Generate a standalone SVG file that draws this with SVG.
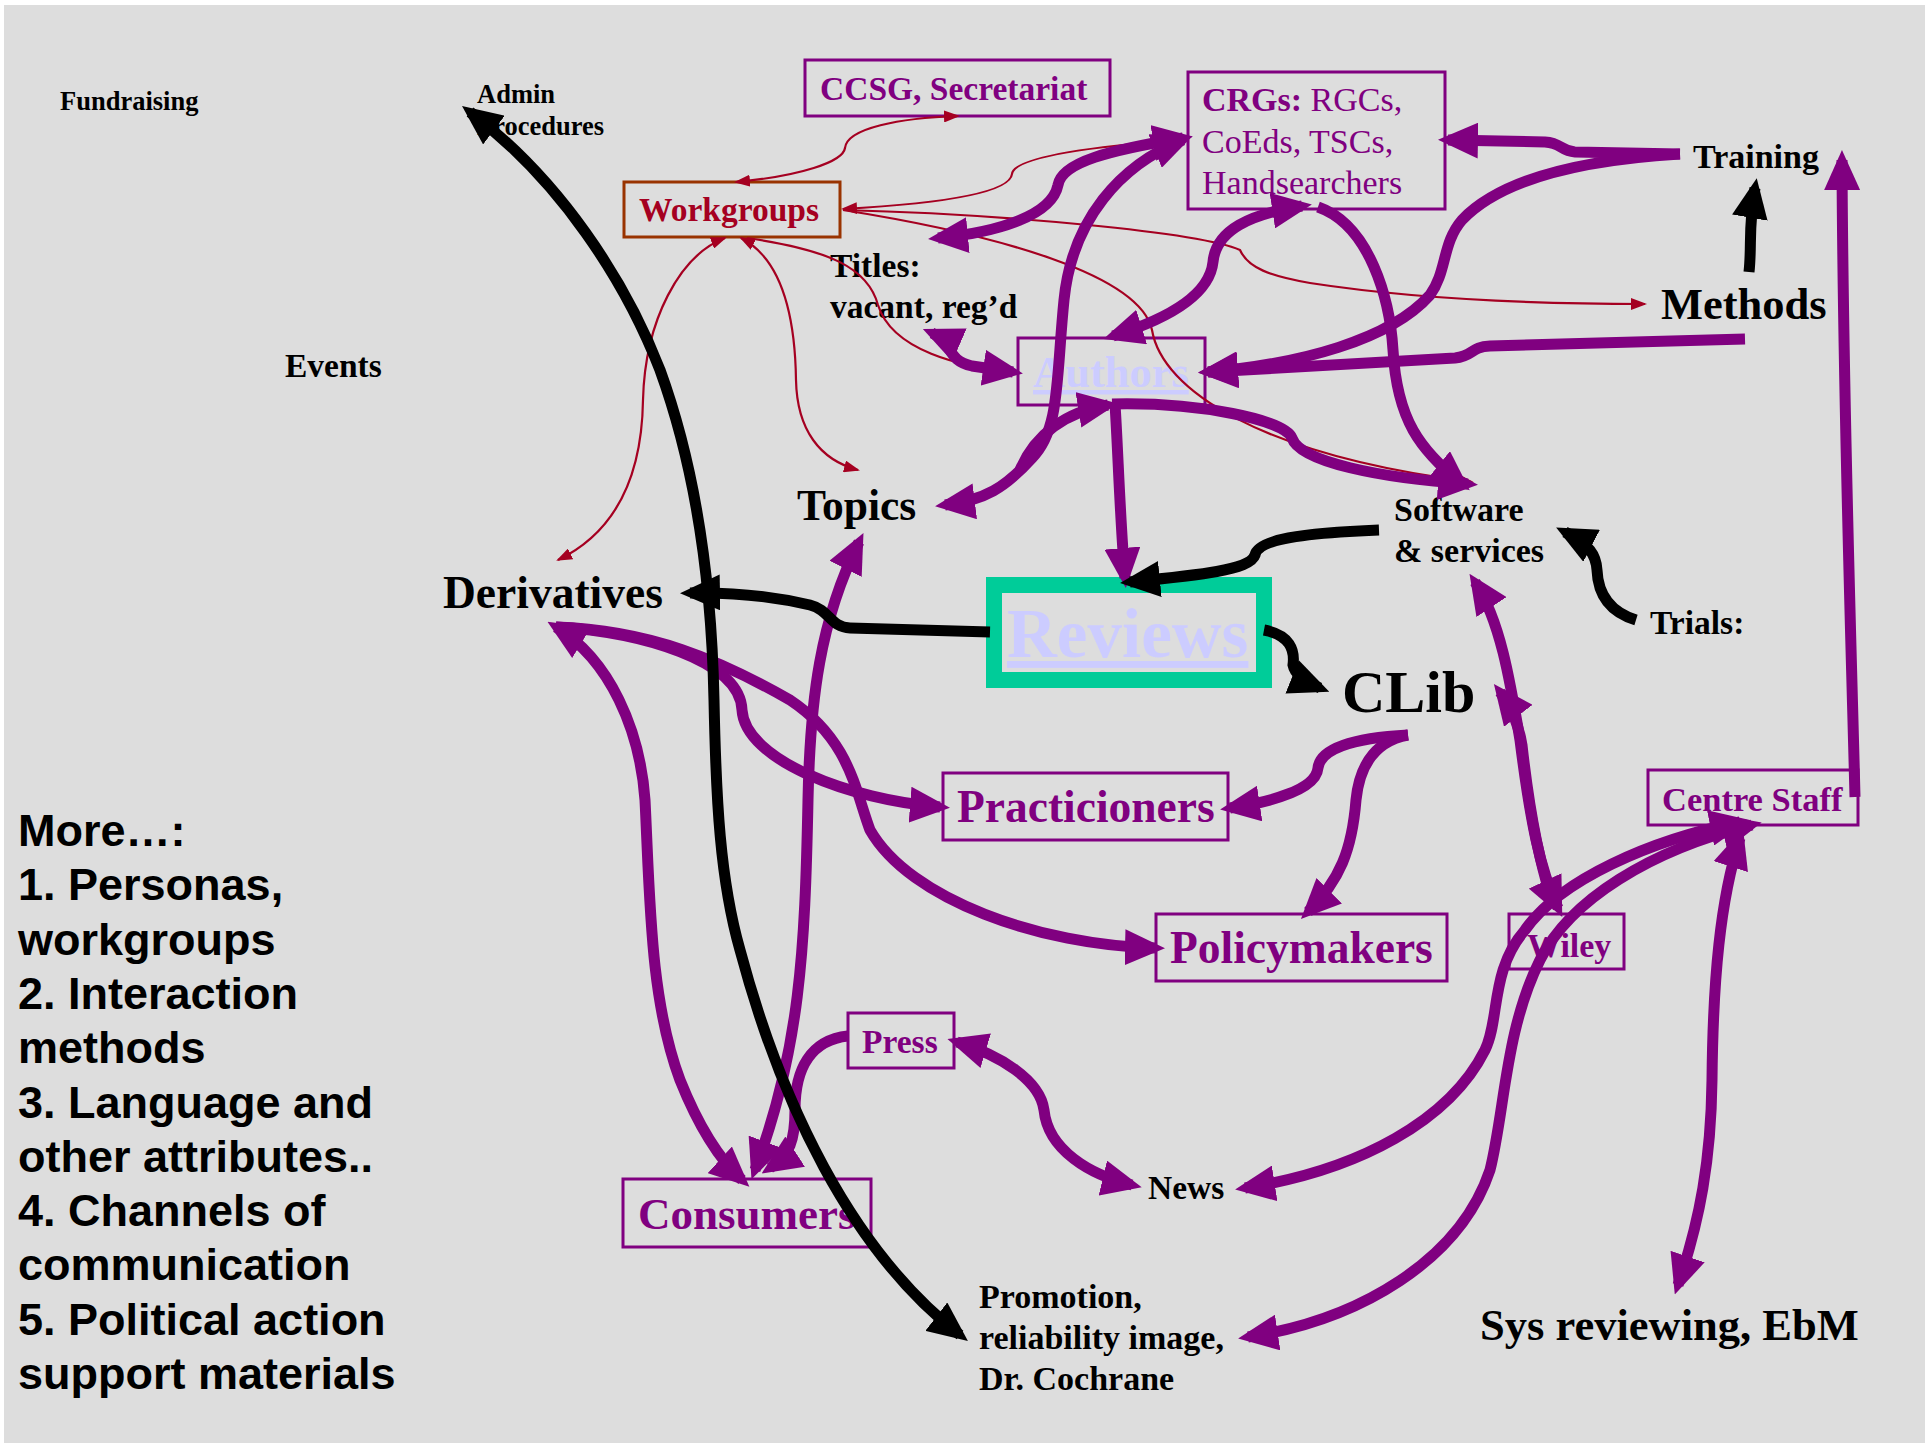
<svg xmlns="http://www.w3.org/2000/svg" width="1925" height="1443" viewBox="0 0 1925 1443">
<style>
.t{font-family:"Liberation Serif","Times New Roman",serif;font-weight:bold;fill:#000}
.pt{font-family:"Liberation Serif","Times New Roman",serif;font-weight:bold;fill:#800080}
.pn{font-family:"Liberation Serif","Times New Roman",serif;font-weight:normal;fill:#800080}
.lv{font-family:"Liberation Serif","Times New Roman",serif;font-weight:bold;fill:#ccccff;text-decoration:underline}
.s{font-family:"Liberation Sans",Arial,sans-serif;font-weight:bold;font-size:45px;fill:#000}
.box{fill:none;stroke:#800080;stroke-width:3}
.pu{fill:none;stroke:#800080;stroke-width:11;marker-end:url(#ap)}
.pu2{fill:none;stroke:#800080;stroke-width:11;marker-end:url(#ap);marker-start:url(#ap)}
.bk{fill:none;stroke:#000;stroke-width:11;marker-end:url(#ab)}
.bk2{fill:none;stroke:#000;stroke-width:11;marker-end:url(#ab);marker-start:url(#ab)}
.rd{fill:none;stroke:#a50021;stroke-width:2.2;marker-end:url(#ar)}
.rd2{fill:none;stroke:#a50021;stroke-width:2.2;marker-end:url(#ar);marker-start:url(#ar)}
.rd0{fill:none;stroke:#a50021;stroke-width:2.2;marker-start:url(#ar)}
</style>
<defs>
<marker id="ap" viewBox="0 0 40 36" refX="30" refY="18" markerWidth="40" markerHeight="36" markerUnits="userSpaceOnUse" orient="auto-start-reverse"><path d="M0,0 L40,18 L0,36 z" fill="#800080"/></marker>
<marker id="ab" viewBox="0 0 40 36" refX="30" refY="18" markerWidth="40" markerHeight="36" markerUnits="userSpaceOnUse" orient="auto-start-reverse"><path d="M0,0 L40,18 L0,36 z" fill="#000"/></marker>
<marker id="ar" viewBox="0 0 16 12" refX="14" refY="6" markerWidth="16" markerHeight="12" markerUnits="userSpaceOnUse" orient="auto-start-reverse"><path d="M0,0 L16,6 L0,12 z" fill="#a50021"/></marker>
</defs>
<rect x="0" y="0" width="1925" height="1443" fill="#ffffff"/>
<rect x="4" y="5" width="1921" height="1438" fill="#dddddd"/>

<g id="fundraising"><text class="t" x="60" y="110" font-size="26.5">Fundraising</text></g>
<g id="admin"><text class="t" x="477" y="103" font-size="26.5">Admin</text><text class="t" x="477" y="135" font-size="26.5">Procedures</text></g>
<g id="events"><text class="t" x="285" y="377" font-size="33.5">Events</text></g>
<g id="derivatives"><text class="t" x="443" y="608" font-size="45.5">Derivatives</text></g>
<g id="topics"><text class="t" x="797" y="520" font-size="43.5">Topics</text></g>
<g id="titles"><text class="t" x="830" y="277" font-size="33.5">Titles:</text><text class="t" x="830" y="318" font-size="33.5">vacant, reg’d</text></g>
<g id="ccsg"><rect class="box" x="805" y="60" width="305" height="56"/><text class="pt" x="820" y="100" font-size="33.5">CCSG, Secretariat</text></g>
<g id="crgs"><rect class="box" x="1188" y="72" width="257" height="137"/>
<text class="pt" x="1202" y="111" font-size="34">CRGs:<tspan class="pn"> RGCs,</tspan></text>
<text class="pn" x="1202" y="153" font-size="34">CoEds, TSCs,</text>
<text class="pn" x="1202" y="194" font-size="34">Handsearchers</text></g>
<g id="workgroups"><rect x="624" y="182" width="216" height="55" fill="none" stroke="#993300" stroke-width="3"/><text x="639" y="221" font-size="33.5" font-family="Liberation Serif,serif" font-weight="bold" fill="#a50021">Workgroups</text></g>
<g id="authors"><rect class="box" x="1018" y="338" width="187" height="67"/><text class="lv" x="1033" y="387" font-size="44.5">Authors</text></g>
<g id="reviews"><rect x="994" y="585" width="270" height="95" fill="none" stroke="#00cc99" stroke-width="16"/><text class="lv" x="1007" y="657" font-size="69">Reviews</text></g>
<g id="clib"><text class="t" x="1342" y="712" font-size="60">CLib</text></g>
<g id="software"><text class="t" x="1394" y="521" font-size="34">Software</text><text class="t" x="1394" y="562" font-size="34">&amp; services</text></g>
<g id="training"><text class="t" x="1693" y="168" font-size="34">Training</text></g>
<g id="methods"><text class="t" x="1661" y="319" font-size="44.5">Methods</text></g>
<g id="trials"><text class="t" x="1650" y="634" font-size="33.5">Trials:</text></g>
<g id="practicioners"><rect class="box" x="943" y="773" width="285" height="67"/><text class="pt" x="957" y="822" font-size="45.5">Practicioners</text></g>
<g id="policymakers"><rect class="box" x="1156" y="914" width="291" height="67"/><text class="pt" x="1170" y="963" font-size="45.5">Policymakers</text></g>
<g id="press"><rect class="box" x="848" y="1013" width="106" height="55"/><text class="pt" x="862" y="1053" font-size="33.5">Press</text></g>
<g id="news"><text class="t" x="1148" y="1199" font-size="33.5">News</text></g>
<g id="consumers"><rect class="box" x="623" y="1179" width="248" height="68"/><text class="pt" x="638" y="1229" font-size="45">Consumers</text></g>
<g id="promotion"><text class="t" x="979" y="1308" font-size="34">Promotion,</text><text class="t" x="979" y="1349" font-size="34">reliability image,</text><text class="t" x="979" y="1390" font-size="34">Dr. Cochrane</text></g>
<g id="wiley"><rect class="box" x="1509" y="914" width="115" height="55"/><text class="pt" x="1527" y="957" font-size="34">Wiley</text></g>
<g id="centrestaff"><rect class="box" x="1648" y="770" width="210" height="55"/><text class="pt" x="1662" y="811" font-size="34.5">Centre Staff</text></g>
<g id="sysreviewing"><text class="t" x="1480" y="1340" font-size="44.5">Sys reviewing, EbM</text></g>
<g id="more">
<text class="s" x="18" y="846">More…:</text>
<text class="s" x="18" y="900">1. Personas,</text>
<text class="s" x="18" y="955">workgroups</text>
<text class="s" x="18" y="1009">2. Interaction</text>
<text class="s" x="18" y="1063">methods</text>
<text class="s" x="18" y="1118">3. Language and</text>
<text class="s" x="18" y="1172">other attributes..</text>
<text class="s" x="18" y="1226">4. Channels of</text>
<text class="s" x="18" y="1280">communication</text>
<text class="s" x="18" y="1335">5. Political action</text>
<text class="s" x="18" y="1389">support materials</text>
</g>

<g id="connectors">
<path class="rd2" d="M 736,182 C 800,176 843,162 845,148 C 847,128 900,118 958,116"/>
<path class="rd0" d="M 843,209 C 950,203 1010,192 1012,174 C 1014,156 1100,146 1178,140"/>
<path class="rd" d="M 843,210 C 1000,214 1200,232 1240,250 C 1248,268 1270,276 1310,283 C 1420,300 1550,304 1645,304"/>
<path class="rd" d="M 843,210 C 1000,235 1140,275 1152,330 C 1162,390 1260,455 1472,482"/>
<path class="rd2" d="M 725,238 C 680,255 645,320 643,400 C 642,470 620,530 558,560"/>
<path class="rd2" d="M 741,238 C 780,258 795,310 796,380 C 797,430 820,460 858,470"/>
<path class="rd" d="M 747,238 C 830,250 868,268 878,305 C 892,350 960,368 1016,371"/>

<path class="pu2" d="M 932,333 C 955,343 945,360 972,366 L 1013,372"/>
<path class="pu2" d="M 1183,140 C 1120,165 1072,220 1064,300 C 1056,380 1060,430 1032,458 C 1005,488 985,500 945,505"/>
<path class="pu2" d="M 1183,138 C 1110,150 1062,162 1058,185 C 1052,215 1000,232 938,238"/>
<path class="pu" d="M 1020,470 C 1035,435 1065,412 1108,405"/>
<path class="pu" d="M 1115,404 C 1118,450 1120,520 1125,578"/>
<path class="pu" d="M 1112,404 C 1200,402 1285,420 1292,438 C 1300,462 1380,478 1468,484"/>
<path class="pu" d="M 1318,207 C 1370,225 1390,300 1393,350 C 1397,420 1420,450 1462,484"/>
<path class="pu2" d="M 1113,336 C 1180,315 1210,290 1213,262 C 1216,230 1250,214 1302,206"/>
<path class="pu" d="M 1680,154 L 1575,152 C 1560,151 1562,143 1545,142 L 1448,140"/>
<path class="pu" d="M 1680,154 C 1580,160 1500,180 1462,220 C 1442,243 1447,272 1430,295 C 1390,340 1300,364 1208,372"/>
<path class="pu" d="M 1745,339 L 1490,346 C 1470,347 1474,356 1455,358 L 1208,372"/>
<path class="pu2" d="M 556,627 C 610,660 640,730 645,800 C 650,900 650,1000 680,1080 C 700,1130 720,1160 742,1180"/>
<path class="pu" d="M 556,627 C 640,632 740,660 742,710 C 745,760 850,800 940,807"/>
<path class="pu" d="M 556,627 C 650,630 720,660 790,700 C 850,740 855,790 870,830 C 910,900 1040,945 1155,948"/>
<path class="pu2" d="M 859,542 C 820,620 810,700 808,800 C 805,950 800,1050 755,1170"/>
<path class="pu" d="M 848,1036 C 810,1040 795,1070 795,1110 C 795,1140 790,1155 770,1168"/>
<path class="pu2" d="M 957,1042 C 1000,1055 1040,1080 1044,1110 C 1048,1150 1090,1175 1132,1185"/>
<path class="pu" d="M 1408,735 C 1350,738 1320,750 1318,768 C 1316,790 1270,802 1230,808"/>
<path class="pu" d="M 1408,735 C 1380,740 1360,760 1356,800 C 1352,850 1340,880 1308,912"/>
<path class="pu2" d="M 1475,582 C 1500,620 1510,680 1520,740 C 1530,820 1540,870 1558,908"/>
<path class="pu" d="M 1552,900 C 1535,850 1527,790 1522,745 C 1518,720 1510,705 1500,692"/>
<path class="pu" d="M 1855,797 C 1850,600 1843,400 1842,160"/>
<path class="pu2" d="M 1740,822 C 1650,840 1560,880 1525,930 C 1490,970 1500,1020 1485,1050 C 1450,1120 1360,1170 1245,1188"/>
<path class="pu2" d="M 1752,825 C 1650,850 1570,900 1540,960 C 1505,1030 1505,1110 1490,1170 C 1460,1260 1360,1320 1248,1337"/>
<path class="pu2" d="M 1740,838 C 1720,900 1713,980 1712,1080 C 1711,1160 1700,1220 1678,1285"/>

<path class="bk" d="M 1749,272 C 1752,245 1748,228 1755,188"/>
<path class="bk" d="M 1379,530 C 1300,533 1258,540 1255,555 C 1250,570 1200,575 1130,582"/>
<path class="bk" d="M 1636,620 C 1610,612 1598,595 1597,570 C 1596,555 1590,545 1565,532"/>
<path class="bk" d="M 990,632 L 850,628 C 830,627 830,610 810,605 C 780,598 740,592 690,593"/>
<path class="bk" d="M 1264,630 C 1290,635 1295,650 1293,665 C 1295,675 1305,682 1320,688"/>
<path class="bk2" d="M 470,112 C 560,180 625,280 660,370 C 700,480 712,600 714,700 C 716,800 720,880 740,950 C 780,1100 850,1250 960,1335"/>
</g>
</svg>
